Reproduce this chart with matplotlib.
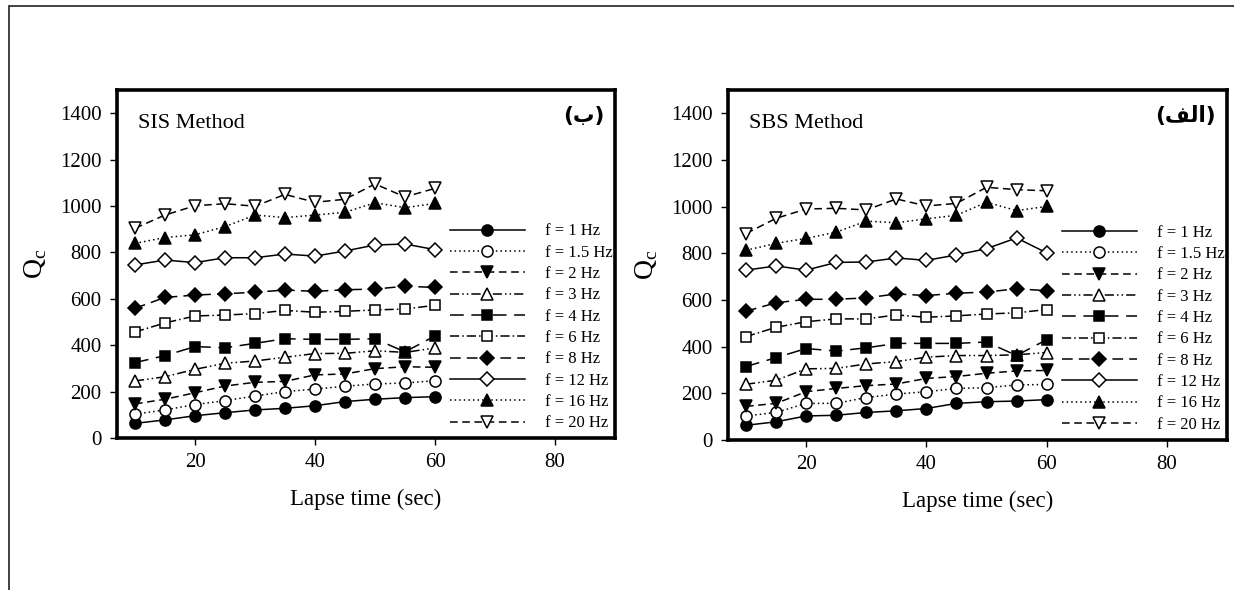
import matplotlib
matplotlib.use("Agg")
import matplotlib.pyplot as plt
from matplotlib.patches import Rectangle

plt.rcParams['font.family'] = ['Liberation Serif', 'DejaVu Serif']
plt.rcParams['mathtext.fontset'] = 'custom'
plt.rcParams['mathtext.rm'] = 'Liberation Serif'

lapse = [10, 15, 20, 25, 30, 35, 40, 45, 50, 55, 60]
freqs = ['1', '1.5', '2', '3', '4', '6', '8', '12', '16', '20']

# SIS method (panel ب)
sis = {
    '1':   [63, 78, 96, 109, 121, 128, 139, 157, 167, 174, 178],
    '1.5': [103, 121, 144, 161, 181, 200, 211, 223, 233, 237, 247],
    '2':   [147, 167, 195, 224, 240, 244, 272, 276, 299, 307, 305],
    '3':   [246, 264, 296, 322, 332, 348, 364, 365, 376, 369, 388],
    '4':   [325, 355, 394, 389, 408, 428, 425, 425, 428, 371, 440],
    '6':   [457, 496, 526, 530, 536, 550, 542, 546, 552, 556, 572],
    '8':   [559, 606, 616, 622, 628, 638, 632, 639, 642, 654, 649],
    '12':  [746, 767, 756, 777, 777, 793, 784, 806, 832, 836, 812],
    '16':  [839, 864, 876, 911, 961, 950, 961, 973, 1014, 993, 1011],
    '20':  [904, 961, 1001, 1010, 999, 1050, 1016, 1029, 1095, 1039, 1076],
}

# SBS method (panel الف)
sbs = {
    '1':   [63, 78, 103, 106, 118, 125, 135, 157, 164, 167, 173],
    '1.5': [103, 118, 157, 157, 182, 197, 207, 221, 224, 236, 238],
    '2':   [144, 157, 207, 221, 233, 240, 264, 272, 286, 296, 298],
    '3':   [239, 256, 305, 307, 326, 336, 355, 362, 362, 365, 375],
    '4':   [315, 353, 392, 381, 395, 414, 414, 414, 420, 362, 430],
    '6':   [443, 483, 507, 519, 519, 536, 526, 532, 540, 545, 559],
    '8':   [552, 588, 603, 603, 609, 626, 619, 629, 634, 648, 640],
    '12':  [728, 746, 728, 761, 763, 780, 770, 793, 820, 866, 802],
    '16':  [813, 843, 864, 891, 938, 931, 948, 963, 1019, 983, 1001],
    '20':  [885, 950, 990, 993, 986, 1033, 1003, 1014, 1083, 1073, 1068],
}

styles = {
    '1':   dict(ls='-', marker='o', mfc='black'),
    '1.5': dict(ls=(0, (1, 2)), marker='o', mfc='white'),
    '2':   dict(ls=(0, (5, 3)), marker='v', mfc='black'),
    '3':   dict(ls=(0, (6, 2, 1, 2, 1, 2)), marker='^', mfc='white'),
    '4':   dict(ls=(0, (9, 5)), marker='s', mfc='black'),
    '6':   dict(ls=(0, (6, 2, 1, 2)), marker='s', mfc='white'),
    '8':   dict(ls=(0, (7, 4)), marker='D', mfc='black'),
    '12':  dict(ls='-', marker='D', mfc='white'),
    '16':  dict(ls=(0, (1, 2)), marker='^', mfc='black'),
    '20':  dict(ls=(0, (5, 3)), marker='v', mfc='white'),
}
msizes = {'D': 7, 's': 7, 'o': 8, '^': 8, 'v': 8}

fig = plt.figure(figsize=(12.34, 5.9), dpi=100)
fig.patches.append(Rectangle((9 / 1234, -0.05), 1.1, 1 - 6 / 590 + 0.05,
                             transform=fig.transFigure, fill=False,
                             edgecolor='#333333', linewidth=1.3))

panels = [
    (sis, 'SIS Method', '(\u0628)', [117 / 1234, 1 - 438 / 590, 498 / 1234, 348 / 590]),
    (sbs, 'SBS Method', '(\ufed2\ufedf\ufe8d)', [728 / 1234, 1 - 440 / 590, 499 / 1234, 350 / 590]),
]

for data, title, tag, rect in panels:
    ax = fig.add_axes(rect)
    for f in freqs:
        st = styles[f]
        ax.plot(lapse, data[f], color='black', lw=1.1, ls=st['ls'],
                marker=st['marker'], mfc=st['mfc'], mec='black', mew=1.1,
                ms=msizes[st['marker']], label='f = %s Hz' % f)
    ax.set_xlim(7, 90)
    ax.set_ylim(0, 1500)
    ax.set_xticks([20, 40, 60, 80])
    ax.set_yticks(range(0, 1401, 200))
    ax.tick_params(direction='out', length=5, width=1, labelsize=15, pad=6)
    for s in ax.spines.values():
        s.set_linewidth(2.6)
    ax.set_xlabel('Lapse time (sec)', fontsize=16.5, labelpad=12)
    ax.set_ylabel(r'Q$_\mathrm{c}$', fontsize=20, labelpad=8)
    ax.text(0.042, 0.905, title, transform=ax.transAxes, fontsize=16,
            va='center', ha='left')
    ax.text(0.978, 0.925, tag, transform=ax.transAxes, fontsize=15.5,
            fontweight='bold', family=['DejaVu Sans'], va='center', ha='right')
    ax.legend(loc='center left', bbox_to_anchor=(0.655, 0.318), frameon=False,
              fontsize=12, handlelength=4.5, handletextpad=1.2,
              labelspacing=0.32, borderaxespad=0)

fig.savefig('out.png', dpi=100)
